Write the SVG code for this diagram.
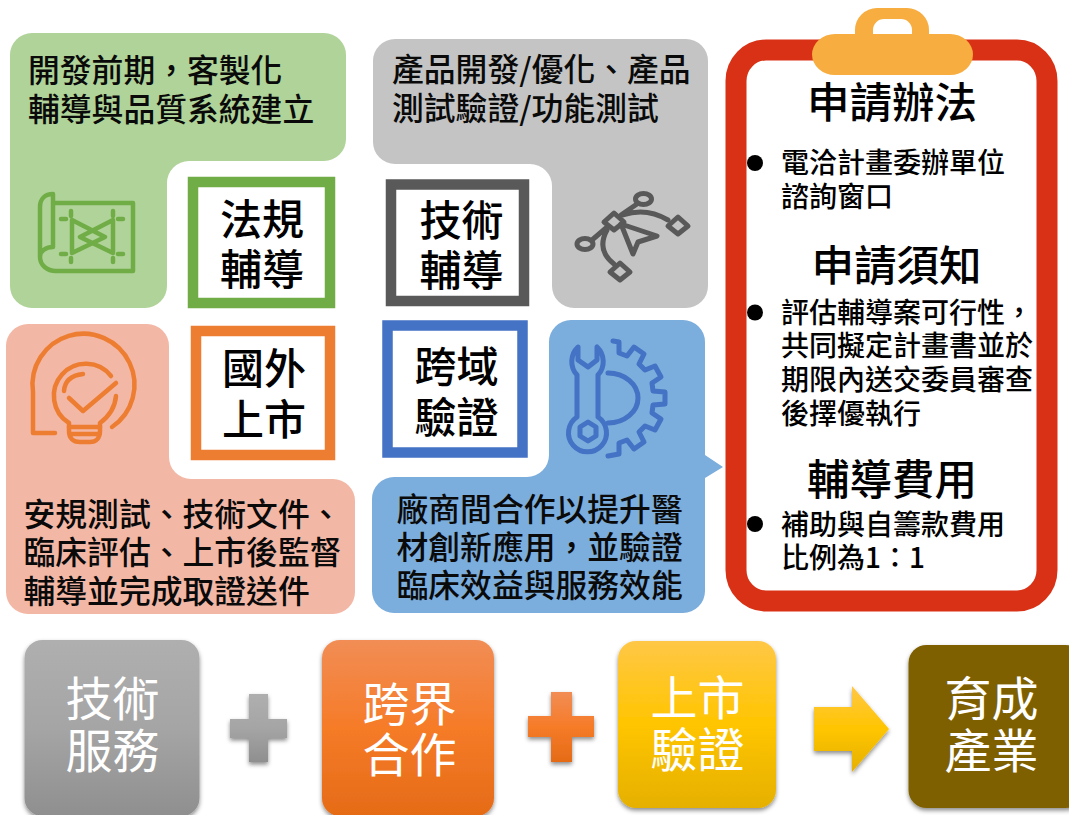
<svg xmlns="http://www.w3.org/2000/svg" width="1069" height="815" viewBox="0 0 1069 815">
<style>
text{font-family:"Noto Sans CJK TC","Noto Sans CJK SC",sans-serif;font-weight:500;fill:#000}
.t{font-size:31.800px;fill:#0a0a0a}
.b{font-size:42px}
.h{font-size:42.500px}
.l{font-size:28px}
.w{font-size:47px;fill:#fff;font-weight:400}
.box{fill:#fff;stroke-width:10.5}
.ic{fill:none;stroke-width:4.500px;stroke-linecap:round;stroke-linejoin:round}
.ic5{stroke-width:5px}
</style>
<defs>
<linearGradient id="gGray" x1="0" y1="0" x2="0" y2="1"><stop offset="0" stop-color="#afafaf"/><stop offset="0.5" stop-color="#a5a5a5"/><stop offset="1" stop-color="#8f8f8f"/></linearGradient>
<linearGradient id="gOrange" x1="0" y1="0" x2="0" y2="1"><stop offset="0" stop-color="#f18d55"/><stop offset="0.5" stop-color="#f67b28"/><stop offset="1" stop-color="#e56b17"/></linearGradient>
<linearGradient id="gYellow" x1="0" y1="0" x2="0" y2="1"><stop offset="0" stop-color="#ffc746"/><stop offset="0.5" stop-color="#ffc500"/><stop offset="1" stop-color="#e5b000"/></linearGradient>
<filter id="sh" x="-15%" y="-15%" width="130%" height="130%"><feDropShadow dx="0" dy="2.5" stdDeviation="2.2" flood-color="#000" flood-opacity="0.45"/></filter>
</defs>

<g id="panel-green">
<path fill="#AFD398" d="M32,33H324a22,22 0 0 1 22,22V139a22,22 0 0 1 -22,22H189a22,22 0 0 0 -22,22V286a22,22 0 0 1 -22,22H32a22,22 0 0 1 -22,-22V55a22,22 0 0 1 22,-22Z"/>
<text class="t" x="28" y="82">開發前期&#xFF0C;客製化</text>
<text class="t" x="28" y="120.500">輔導與品質系統建立</text>
<g class="ic" stroke="#70AD47">
<path d="M53,194C45,194 40,199 40,207V257C40,265 47,271 56,271H133V203H53M53,194V247C46,247 40,251 40,257"/>
<path d="M72,220L105,237L72,253ZM113,220L80,237L113,253Z"/>
<path d="M71,211V216M113,211V216M71,258V262M113,258V262M61,219H66M118,219H123M61,254H66M118,254H123"/>
</g>
</g>

<g id="panel-gray">
<path fill="#C4C4C4" d="M395,39H686a22,22 0 0 1 22,22V286a22,22 0 0 1 -22,22H574a22,22 0 0 1 -22,-22V186a22,22 0 0 0 -22,-22H395a22,22 0 0 1 -22,-22V61a22,22 0 0 1 22,-22Z"/>
<text class="t" x="392" y="81">產品開發/優化、產品</text>
<text class="t" x="392" y="120">測試驗證/功能測試</text>
<g class="ic ic5" stroke="#595959" transform="translate(1,0)">
<path d="M613,213L623,222L613,230L603,222Z"/>
<path d="M677,217L687,226L677,234L667,226Z"/>
<path d="M619,263L629,272L619,280L609,272Z"/>
<ellipse cx="642.500" cy="199" rx="8" ry="5.500"/>
<ellipse cx="584" cy="244" rx="8" ry="5.500"/>
<path d="M620,215L636,204M591,240L605,228M622,215Q645,207 667,220M606,230Q595,250 613,264"/>
<path d="M620,224L656,236L637,242L632,254Z"/>
</g>
</g>

<g id="panel-salmon">
<path fill="#F3B7A5" d="M28,324H147a22,22 0 0 1 22,22V457a22,22 0 0 0 22,22H333a22,22 0 0 1 22,22V592a22,22 0 0 1 -22,22H28a22,22 0 0 1 -22,-22V346a22,22 0 0 1 22,-22Z"/>
<text class="t" x="23.500" y="526">安規測試、技術文件、</text>
<text class="t" x="23.500" y="564">臨床評估、上市後監督</text>
<text class="t" x="23.500" y="603">輔導並完成取證送件</text>
<g class="ic" stroke="#ED7D31">
<path d="M55,433H33V392A51,51 0 1 1 112,427"/>
<path d="M111,376A32,32 0 1 0 69,423V431C69,438 73,442 80,442H90C96,442 100,438 100,431V423C108,417 115,408 116,396"/>
<path d="M64,391Q65,376 83,374M69,398L83,411L116,383M69,427H100M71,434H99"/>
</g>
</g>

<g id="panel-blue">
<path fill="#7BADDD" d="M571,320H683a22,22 0 0 1 22,22V455L723,467L705,478V591a22,22 0 0 1 -22,22H394a22,22 0 0 1 -22,-22V499a22,22 0 0 1 22,-22H527a22,22 0 0 0 22,-22V342a22,22 0 0 1 22,-22Z"/>
<text class="t" x="396.500" y="521">廠商間合作以提升醫</text>
<text class="t" x="396.500" y="559">材創新應用&#xFF0C;並驗證</text>
<text class="t" x="396.500" y="597">臨床效益與服務效能</text>
<g class="ic ic5" stroke="#4472C4">
<path d="M578,347A20,20 0 0 0 577,375V417A19,19 0 1 0 598,417V375A20,20 0 0 0 597,347V360L588,367L578,360Z"/>
<path d="M588,422L596,427V436L588,441L580,436V427Z"/>
<path d="M608,373A30,25 0 0 1 608,423"/>
<path d="M613,341L619,342L619,353L627,356L634,347L644,354L639,364L645,370L655,366L661,377L652,383L653,391L665,392V404L653,405L652,413L661,419L655,430L645,426L639,432L644,442L634,449L627,440L619,443L619,454L608,456"/>
</g>
</g>

<g id="box-legal"><rect class="box" stroke="#70AD47" x="193" y="182" width="137" height="121"/>
<text class="b" x="220" y="235">法規</text><text class="b" x="220" y="285">輔導</text></g>
<g id="box-tech"><rect class="box" stroke="#595959" x="391" y="184.500" width="133" height="116.500"/>
<text class="b" x="419.500" y="236">技術</text><text class="b" x="419.500" y="286">輔導</text></g>
<g id="box-overseas"><rect class="box" stroke="#ED7D31" x="196" y="331" width="134" height="124"/>
<text class="b" x="222" y="384">國外</text><text class="b" x="222" y="435">上市</text></g>
<g id="box-cross"><rect class="box" stroke="#4472C4" x="387.500" y="325.500" width="135" height="127"/>
<text class="b" x="414.500" y="382">跨域</text><text class="b" x="414.500" y="433">驗證</text></g>

<g id="clipboard">
<rect x="736" y="50" width="311" height="551" rx="30" ry="31" fill="#fff" stroke="#D93116" stroke-width="21"/>
<path fill="#F7AD3F" fill-rule="evenodd" d="M855,34V30A22,22 0 0 1 877,8H907A22,22 0 0 1 929,30V34H950A23,20.500 0 0 1 950,75H835A23,20.500 0 0 1 835,34ZM873,34H912V30A11,11 0 0 0 901,19H884A11,11 0 0 0 873,30Z"/>
<text class="h" x="807" y="118">申請辦法</text>
<circle cx="755" cy="163" r="8"/>
<text class="l" x="781" y="173">電洽計畫委辦單位</text>
<text class="l" x="781" y="207">諮詢窗口</text>
<text class="h" x="811.500" y="281">申請須知</text>
<circle cx="755" cy="312.500" r="8"/>
<text class="l" x="781" y="322.500">評估輔導案可行性&#xFF0C;</text>
<text class="l" x="781" y="355.500">共同擬定計畫書並於</text>
<text class="l" x="781" y="389.500">期限內送交委員審查</text>
<text class="l" x="781" y="423.500">後擇優執行</text>
<text class="h" x="807" y="495">輔導費用</text>
<circle cx="755" cy="524" r="8"/>
<text class="l" x="781" y="535">補助與自籌款費用</text>
<text class="l" x="781" y="568">比例為1&#xFF1A;1</text>
</g>

<g id="step-service"><rect x="24.500" y="640" width="175" height="176" rx="18" fill="url(#gGray)" filter="url(#sh)"/>
<text class="w" x="65.500" y="716">技術</text><text class="w" x="65.500" y="768">服務</text></g>
<g id="step-partner"><rect x="322" y="640" width="172" height="176" rx="18" fill="url(#gOrange)" filter="url(#sh)"/>
<text class="w" x="362.500" y="721">跨界</text><text class="w" x="362.500" y="772">合作</text></g>
<g id="step-market"><rect x="618" y="641" width="158" height="167" rx="18" fill="url(#gYellow)" filter="url(#sh)"/>
<text class="w" x="650.500" y="715">上市</text><text class="w" x="650.500" y="767">驗證</text></g>
<g id="step-incubate"><rect x="908.500" y="645" width="175" height="163" rx="18" fill="#7F6000" filter="url(#sh)"/>
<text class="w" x="944.500" y="716">育成</text><text class="w" x="944.500" y="768">產業</text></g>

<g id="connectors">
<path fill="url(#gGray)" filter="url(#sh)" d="M249,694H268V719H287V738H268V762H249V738H230V719H249Z"/>
<path fill="url(#gOrange)" filter="url(#sh)" d="M551,692H572V716H594V737H572V762H551V737H528V716H551Z"/>
<path fill="url(#gYellow)" filter="url(#sh)" d="M814,707H852V686L889,729L852,772V751H814Z"/>
</g>
</svg>
